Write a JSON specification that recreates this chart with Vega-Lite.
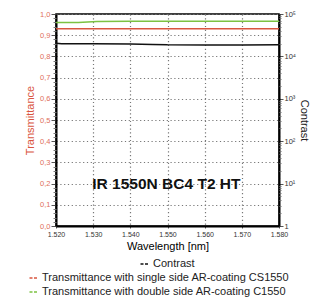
{
  "$schema": "https://vega.github.io/schema/vega-lite/v6.json",
  "width": 223,
  "height": 212,
  "autosize": {"type": "none"},
  "padding": {"left": 56, "top": 14, "right": 31, "bottom": 73},
  "background": "white",
  "config": {
    "font": "Liberation Sans",
    "view": {"stroke": "black", "strokeWidth": 1.5},
    "axis": {
      "labelFont": "Liberation Sans",
      "titleFont": "Liberation Sans",
      "titleFontWeight": "normal",
      "domainColor": "black",
      "domainWidth": 2,
      "tickColor": "#555",
      "gridColor": "#777",
      "gridDash": [1.2, 2.6],
      "gridWidth": 1.2,
      "labelOverlap": false
    },
    "axisX": {"labelOverlap": false, "labelFlush": false, "labelBound": false},
    "legend": {
      "labelFont": "Liberation Sans"
    }
  },
  "data": {
    "values": [
      {"wl": 1.520, "series": "Transmittance with double side AR-coating C1550", "t": 0.960},
      {"wl": 1.526, "series": "Transmittance with double side AR-coating C1550", "t": 0.960},
      {"wl": 1.531, "series": "Transmittance with double side AR-coating C1550", "t": 0.965},
      {"wl": 1.540, "series": "Transmittance with double side AR-coating C1550", "t": 0.966},
      {"wl": 1.550, "series": "Transmittance with double side AR-coating C1550", "t": 0.966},
      {"wl": 1.560, "series": "Transmittance with double side AR-coating C1550", "t": 0.966},
      {"wl": 1.570, "series": "Transmittance with double side AR-coating C1550", "t": 0.966},
      {"wl": 1.580, "series": "Transmittance with double side AR-coating C1550", "t": 0.966},
      {"wl": 1.520, "series": "Transmittance with single side AR-coating CS1550", "t": 0.931},
      {"wl": 1.530, "series": "Transmittance with single side AR-coating CS1550", "t": 0.931},
      {"wl": 1.540, "series": "Transmittance with single side AR-coating CS1550", "t": 0.931},
      {"wl": 1.550, "series": "Transmittance with single side AR-coating CS1550", "t": 0.931},
      {"wl": 1.560, "series": "Transmittance with single side AR-coating CS1550", "t": 0.931},
      {"wl": 1.570, "series": "Transmittance with single side AR-coating CS1550", "t": 0.931},
      {"wl": 1.580, "series": "Transmittance with single side AR-coating CS1550", "t": 0.931},
      {"wl": 1.520, "series": "Contrast", "c": 20300},
      {"wl": 1.5215, "series": "Contrast", "c": 19900},
      {"wl": 1.530, "series": "Contrast", "c": 19800},
      {"wl": 1.540, "series": "Contrast", "c": 19700},
      {"wl": 1.546, "series": "Contrast", "c": 19200},
      {"wl": 1.550, "series": "Contrast", "c": 18700},
      {"wl": 1.560, "series": "Contrast", "c": 18600},
      {"wl": 1.570, "series": "Contrast", "c": 18600},
      {"wl": 1.580, "series": "Contrast", "c": 18800}
    ]
  },
  "encoding": {
    "x": {
      "field": "wl", "type": "quantitative",
      "scale": {"domain": [1.52, 1.58], "nice": false, "zero": false},
      "axis": {
        "title": "Wavelength [nm]", "titleFontSize": 11, "titleColor": "black", "titlePadding": 3,
        "values": [1.52, 1.53, 1.54, 1.55, 1.56, 1.57, 1.58],
        "format": ".3f", "labelFontSize": 7, "labelColor": "#333", "tickSize": 2, "labelPadding": 2,
        "grid": true, "labelFlush": false, "labelOverlap": false, "labelBound": false
      }
    }
  },
  "layer": [
    {
      "transform": [{"filter": "datum.series != 'Contrast'"}],
      "mark": {"type": "line", "strokeWidth": 1.5},
      "encoding": {
        "y": {
          "field": "t", "type": "quantitative",
          "scale": {"domain": [0, 1], "nice": false},
          "axis": {
            "orient": "left",
            "title": "Transmittance", "titleColor": "#d9553f", "titleFontSize": 11, "titlePadding": 4,
            "values": [0, 0.1, 0.2, 0.3, 0.4, 0.5, 0.6, 0.7, 0.8, 0.9, 1.0],
            "labelExpr": "replace(format(datum.value, '.1f'), '.', ',')",
            "labelFontSize": 7.5, "labelColor": "#e0705c", "tickSize": 5, "labelPadding": 1,
            "grid": true, "labelOverlap": false
          }
        },
        "color": {
          "field": "series", "type": "nominal",
          "scale": {
            "domain": ["Transmittance with single side AR-coating CS1550", "Transmittance with double side AR-coating C1550"],
            "range": ["#d9553f", "#7cc242"]
          },
          "legend": {
            "orient": "none", "legendX": -28, "legendY": 258.5, "direction": "vertical", "title": null,
            "symbolType": "stroke", "symbolDash": [3, 1.5], "symbolStrokeWidth": 1.5, "symbolSize": 64,
            "labelFontSize": 11, "labelColor": "#222", "labelLimit": 0, "rowPadding": 2, "symbolOffset": 0, "labelOffset": 3
          }
        }
      }
    },
    {
      "transform": [{"filter": "datum.series == 'Contrast'"}],
      "mark": {"type": "line", "strokeWidth": 1.5},
      "encoding": {
        "y": {
          "field": "c", "type": "quantitative",
          "scale": {"type": "log", "domain": [1, 100000], "nice": false},
          "axis": {
            "orient": "right",
            "title": "Contrast", "titleColor": "#222", "titleFontSize": 11, "titlePadding": 3,
            "values": [1, 10, 100, 1000, 10000, 100000],
            "labelExpr": "datum.value == 1 ? '1' : '10' + ['', '¹', '²', '³', '⁴', '⁵'][round(log(datum.value) / LN10)]",
            "labelFontSize": 7.5, "labelColor": "#333", "tickSize": 4, "labelPadding": 1,
            "grid": false, "labelOverlap": false
          }
        },
        "color": {
          "field": "series", "type": "nominal",
          "scale": {"domain": ["Contrast"], "range": ["#111111"]},
          "legend": {
            "orient": "none", "legendX": 83, "legendY": 244.5, "direction": "vertical", "title": null,
            "symbolType": "stroke", "symbolDash": [3, 1.5], "symbolStrokeWidth": 1.5, "symbolSize": 64,
            "labelFontSize": 11, "labelColor": "#222", "labelLimit": 0, "symbolOffset": 0, "labelOffset": 3
          }
        }
      }
    },
    {
      "mark": {"type": "line", "opacity": 0},
      "transform": [{"filter": "datum.series != 'Contrast'"}],
      "encoding": {
        "y": {
          "field": "t", "type": "quantitative",
          "scale": {"domain": [0, 1], "nice": false},
          "axis": {
            "orient": "left", "title": null, "labels": false, "grid": false, "domain": false,
            "values": [0.02, 0.04, 0.06, 0.08, 0.12, 0.14, 0.16, 0.18, 0.22, 0.24, 0.26, 0.28, 0.32, 0.34, 0.36, 0.38, 0.42, 0.44, 0.46, 0.48, 0.52, 0.54, 0.56, 0.58, 0.62, 0.64, 0.66, 0.68, 0.72, 0.74, 0.76, 0.78, 0.82, 0.84, 0.86, 0.88, 0.92, 0.94, 0.96, 0.98],
            "tickSize": 3, "tickColor": "#777"
          }
        }
      }
    },
    {
      "mark": {"type": "line", "opacity": 0},
      "transform": [{"filter": "datum.series == 'Contrast'"}],
      "encoding": {
        "y": {
          "field": "c", "type": "quantitative",
          "scale": {"type": "log", "domain": [1, 100000], "nice": false},
          "axis": {
            "orient": "right", "title": null, "labels": false, "grid": false, "domain": false,
            "values": [2, 3, 4, 5, 6, 7, 8, 9, 20, 30, 40, 50, 60, 70, 80, 90, 200, 300, 400, 500, 600, 700, 800, 900, 2000, 3000, 4000, 5000, 6000, 7000, 8000, 9000, 20000, 30000, 40000, 50000, 60000, 70000, 80000, 90000],
            "tickSize": 2, "tickColor": "#777"
          }
        }
      }
    },
    {
      "data": {"values": [{"label": "IR 1550N BC4 T2 HT", "wl": 1.5497, "t": 0.2}]},
      "mark": {"type": "text", "fontSize": 15.5, "fontWeight": "bold", "font": "Liberation Sans", "color": "#111", "align": "center", "baseline": "middle"},
      "encoding": {
        "y": {"field": "t", "type": "quantitative", "scale": {"domain": [0, 1], "nice": false}, "axis": null},
        "text": {"field": "label"}
      }
    }
  ],
  "resolve": {
    "scale": {"y": "independent", "color": "independent"},
    "axis": {"y": "independent"},
    "legend": {"color": "independent"}
  }
}
